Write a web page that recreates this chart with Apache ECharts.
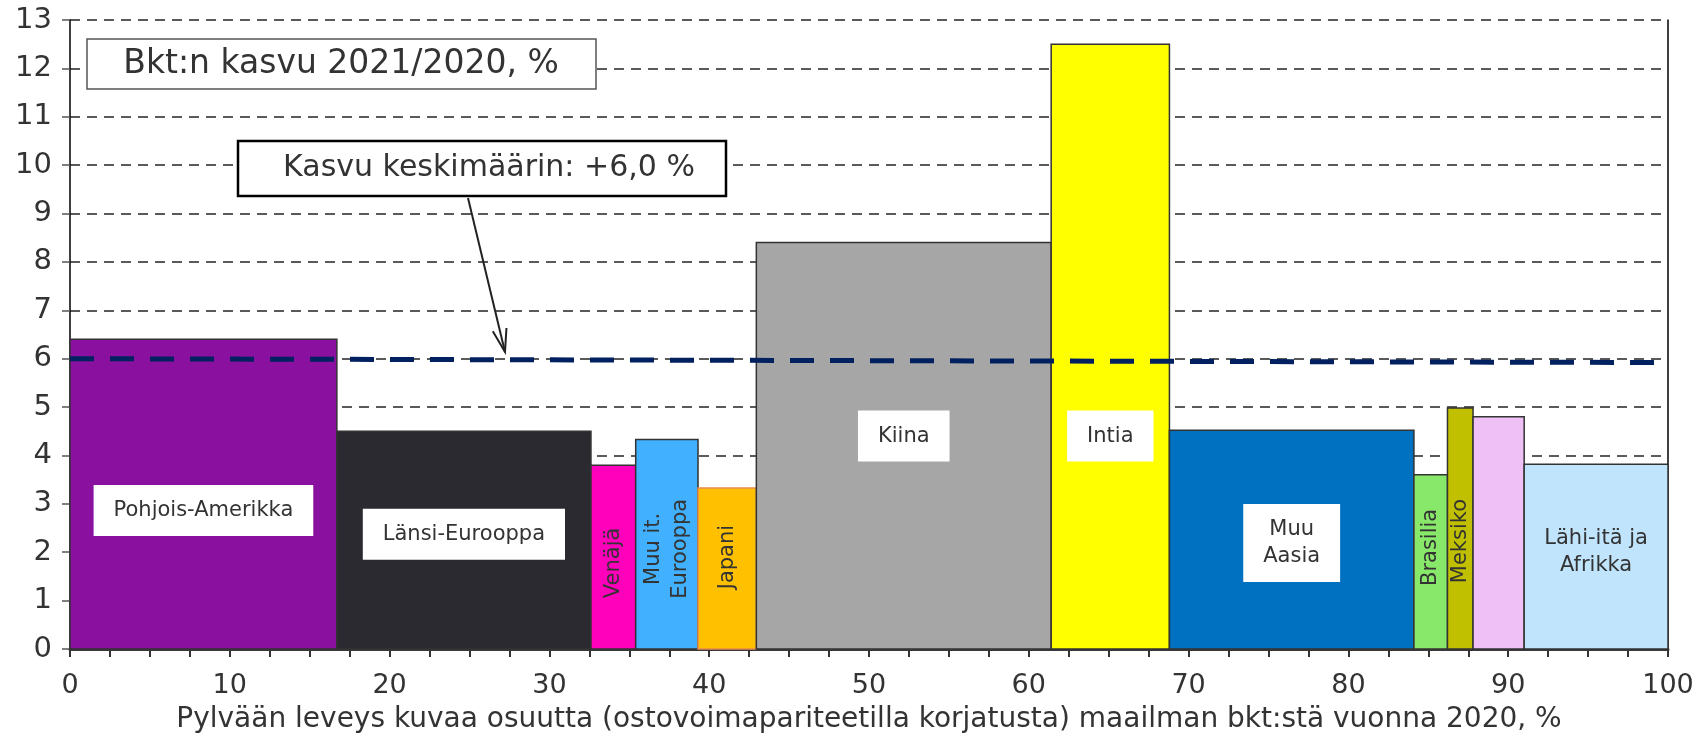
<!DOCTYPE html>
<html>
<head>
<meta charset="utf-8">
<script src="https://cdn.jsdelivr.net/npm/echarts@6/dist/echarts.min.js"></script>
<style>
html,body{margin:0;padding:0;background:#fff;}
#chart{width:1698px;height:739px;}
</style>
</head>
<body>
<div id="chart"></div>
<script>
// ---- data ----
const categories = ['Pohjois-Amerikka','Länsi-Eurooppa','Venäjä','Muu it. Eurooppa','Japani','Kiina','Intia','Muu Aasia','Brasilia','Meksiko','Muu Latinalainen Amerikka','Lähi-itä ja Afrikka'];
const shares = [16.7, 15.9, 2.8, 3.9, 3.65, 18.45, 7.4, 15.3, 2.1, 1.6, 3.2, 9.0];   // bar widths, % of world GDP 2020
const growth = [6.4, 4.5, 3.8, 4.33, 3.33, 8.4, 12.5, 4.52, 3.6, 4.98, 4.8, 3.82];   // GDP growth 2021/2020, %
const labelText = ['Pohjois-Amerikka','Länsi-Eurooppa','Venäjä','Muu it.\nEurooppa','Japani','Kiina','Intia','Muu\nAasia','Brasilia','Meksiko','','Lähi-itä ja\nAfrikka'];
const labelY = [2.86, 2.37, 1.78, 2.07, 1.9, 4.4, 4.4, 2.19, 2.1, 2.23, null, 2.0];
const labelVertical = [0,0,1,1,1,0,0,0,1,1,0,0];
const labelBoxed = [1,1,0,0,0,1,1,1,0,0,0,0];
const avgX = [0, 100];
const avgY = [6.0, 5.92];

// ---- styles ----
const colors = ['#8A10A0','#2A2A30','#FF00BB','#40B0FF','#FFC000','#A6A6A6','#FFFF00','#0070C0','#88E86A','#C0C000','#EEC0F5','#C0E4FC'];
const FONT = 'DejaVu Sans';

const barData = [];
let acc = 0;
for (let i = 0; i < shares.length; i++) {
  barData.push([acc, acc + shares[i], growth[i], i]);
  acc += shares[i];
}
const labelData = barData.map((b, i) => [(b[0] + b[1]) / 2, labelY[i], i]).filter(d => d[1] != null && labelText[d[2]]);

const chart = echarts.init(document.getElementById('chart'));

const hx0 = 468, hy0 = 198, hx1 = 505, hy1 = 352;
const dl = Math.hypot(hx1 - hx0, hy1 - hy0);
const ux = (hx1 - hx0) / dl, uy = (hy1 - hy0) / dl;
function rot(x, y, a) { return [x * Math.cos(a) - y * Math.sin(a), x * Math.sin(a) + y * Math.cos(a)]; }
const hl = 24, ha = 17 * Math.PI / 180;
const r1 = rot(ux, uy, ha), r2 = rot(ux, uy, -ha);

chart.setOption({
  animation: false,
  grid: { left: 70, right: 30, top: 20, bottom: 69, containLabel: false },
  xAxis: {
    type: 'value', min: 0, max: 100, interval: 10,
    name: 'Pylvään leveys kuvaa osuutta (ostovoimapariteetilla korjatusta) maailman bkt:stä vuonna 2020, %',
    nameLocation: 'middle', nameGap: 57,
    nameTextStyle: { fontFamily: FONT, fontSize: 28, color: '#333' },
    axisLine: { show: true, onZero: false, lineStyle: { color: '#3a3a3a', width: 3 } },
    axisTick: { show: true, length: 8, lineStyle: { color: '#333', width: 2 } },
    minorTick: { show: true, splitNumber: 4, length: 8, lineStyle: { color: '#333', width: 2 } },
    axisLabel: { fontFamily: FONT, fontSize: 27, color: '#333', margin: 23 },
    splitLine: { show: false }
  },
  yAxis: [{
    type: 'value', min: 0, max: 13, interval: 1,
    axisLine: { show: true, lineStyle: { color: '#000', width: 1.5 } },
    axisTick: { show: true, length: 8, lineStyle: { color: '#555', width: 1.5 } },
    axisLabel: { fontFamily: FONT, fontSize: 29, color: '#333', margin: 18 },
    splitLine: { show: true, lineStyle: { color: '#5a5a5a', width: 2, type: [10, 7] } }
  }, {
    type: 'value', min: 0, max: 13, interval: 1, position: 'right',
    axisLine: { show: true, lineStyle: { color: '#000', width: 1.5 } },
    axisTick: { show: false }, axisLabel: { show: false }, splitLine: { show: false }
  }],
  series: [{
    type: 'custom',
    data: barData,
    z: 2,
    renderItem: function (params, api) {
      const p0 = api.coord([api.value(0), api.value(2)]);
      const p1 = api.coord([api.value(1), 0]);
      const i = api.value(3);
      return {
        type: 'rect',
        shape: { x: p0[0], y: p0[1], width: p1[0] - p0[0], height: p1[1] - p0[1] },
        style: { fill: colors[i], stroke: i === 4 ? '#E88A50' : '#333', lineWidth: 1.5 }
      };
    }
  }, {
    type: 'line',
    data: avgX.map((x, i) => [x, avgY[i]]),
    symbol: 'none',
    z: 4,
    lineStyle: { color: '#002060', width: 5, type: [24, 16] }
  }, {
    type: 'custom',
    data: labelData,
    z: 5,
    renderItem: function (params, api) {
      const i = api.value(2);
      const p = api.coord([api.value(0), api.value(1)]);
      const boxed = labelBoxed[i];
      return {
        type: 'text',
        x: p[0], y: p[1],
        rotation: labelVertical[i] ? Math.PI / 2 : 0,
        style: {
          text: labelText[i],
          fill: '#333',
          font: '21px "' + FONT + '"',
          align: 'center', verticalAlign: 'middle',
          lineHeight: 27,
          backgroundColor: boxed ? '#fff' : 'transparent',
          padding: boxed ? [12, 20] : 0
        }
      };
    }
  }],
  graphic: [
    { type: 'rect', shape: { x: 87, y: 39, width: 509, height: 50 }, style: { fill: '#fff', stroke: '#555', lineWidth: 1.5 }, z: 10 },
    { type: 'text', x: 341, y: 64, style: { text: 'Bkt:n kasvu 2021/2020, %', font: '33px "' + FONT + '"', fill: '#333', align: 'center', verticalAlign: 'middle' }, z: 11 },
    { type: 'rect', shape: { x: 238, y: 141, width: 488, height: 55 }, style: { fill: '#fff', stroke: '#000', lineWidth: 2.5 }, z: 10 },
    { type: 'text', x: 489, y: 168, style: { text: 'Kasvu keskimäärin: +6,0 %', font: '30px "' + FONT + '"', fill: '#333', align: 'center', verticalAlign: 'middle' }, z: 11 },
    { type: 'line', shape: { x1: hx0, y1: hy0, x2: hx1, y2: hy1 }, style: { stroke: '#222', lineWidth: 2 }, z: 10 },
    { type: 'polyline', shape: { points: [[hx1 - r1[0] * hl, hy1 - r1[1] * hl], [hx1, hy1], [hx1 - r2[0] * hl, hy1 - r2[1] * hl]] }, style: { stroke: '#222', lineWidth: 2, fill: null }, z: 10 }
  ]
});
</script>
</body>
</html>
